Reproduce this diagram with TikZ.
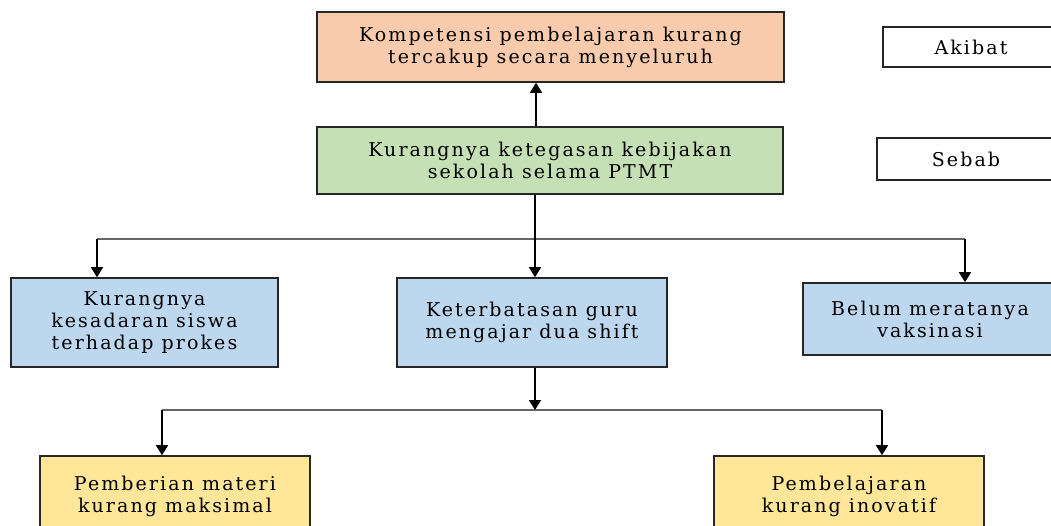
\documentclass[tikz,border=0pt]{standalone}
\usepackage{fontspec}
\setmainfont{DejaVu Serif}[LetterSpace=11]
\usetikzlibrary{arrows.meta}
\definecolor{cOrange}{HTML}{F8CBAD}
\definecolor{cGreen}{HTML}{C5E0B4}
\definecolor{cBlue}{HTML}{BDD7EE}
\definecolor{cYellow}{HTML}{FFE699}
\begin{document}
\begin{tikzpicture}[x=1pt,y=-1pt,
  box/.style={draw=black!85,line width=1.6pt,align=center,inner sep=0pt,
    font=\fontsize{19}{22}\selectfont},
  keybox/.style={draw=black!85,line width=1.4pt,align=center,inner sep=0pt,fill=white,
    font=\fontsize{19}{22}\selectfont},
  arr/.style={draw=black,line width=1.7pt,-{Triangle[width=12pt,length=10pt]}},
  hline/.style={draw=black!60,line width=1.2pt}]
\useasboundingbox (0,0) rectangle (1051,525);
\clip (0,0) rectangle (1051,525);
\fill[white] (0,0) rectangle (1051,525);
% nodes
\node[box,fill=cOrange,minimum width=467pt,minimum height=70pt] (akibat) at (550.5,47)
  {Kompetensi pembelajaran kurang\\tercakup secara menyeluruh};
\node[box,fill=cGreen,minimum width=466pt,minimum height=67pt] (sebab) at (550,160.5)
  {Kurangnya ketegasan kebijakan\\sekolah selama PTMT};
\node[box,fill=cBlue,minimum width=267pt,minimum height=89pt] (kiri) at (144.5,322.5)
  {Kurangnya\\kesadaran siswa\\terhadap prokes};
\node[box,fill=cBlue,minimum width=270pt,minimum height=89pt] (tengah) at (532,322.5)
  {Keterbatasan guru\\mengajar dua shift};
\node[box,fill=cBlue,minimum width=254pt,minimum height=72pt] (kanan) at (930,319)
  {Belum meratanya\\vaksinasi};
\node[box,fill=cYellow,minimum width=270pt,minimum height=80pt] (materi) at (175,496)
  {Pemberian materi\\kurang maksimal};
\node[box,fill=cYellow,minimum width=270pt,minimum height=80pt] (inovatif) at (849,496)
  {Pembelajaran\\kurang inovatif};
\node[keybox,minimum width=176pt,minimum height=40pt] (lAkibat) at (971,47) {Akibat};
\node[keybox,minimum width=178pt,minimum height=42pt] (lSebab) at (966,159) {Sebab};
% junction coordinates
\coordinate (trunk) at (536,0);
\coordinate (jA) at (535,239);
\coordinate (jL) at (97,239);
\coordinate (jR) at (965,239);
\coordinate (jB) at (535,410);
\coordinate (jBL) at (162,410);
\coordinate (jBR) at (882,410);
% connectors
\draw[arr] (sebab.north -| trunk) -- (akibat.south -| trunk);
\draw[hline] (jL) -- (jR);
\draw[arr] (sebab.south -| jA) -- (tengah.north -| jA);
\draw[arr] (jL) -- (kiri.north -| jL);
\draw[arr] (jR) -- (kanan.north -| jR);
\draw[hline] (jBL) -- (jBR);
\draw[arr] (tengah.south -| jB) -- (jB);
\draw[arr] (jBL) -- (materi.north -| jBL);
\draw[arr] (jBR) -- (inovatif.north -| jBR);
\end{tikzpicture}
\end{document}
